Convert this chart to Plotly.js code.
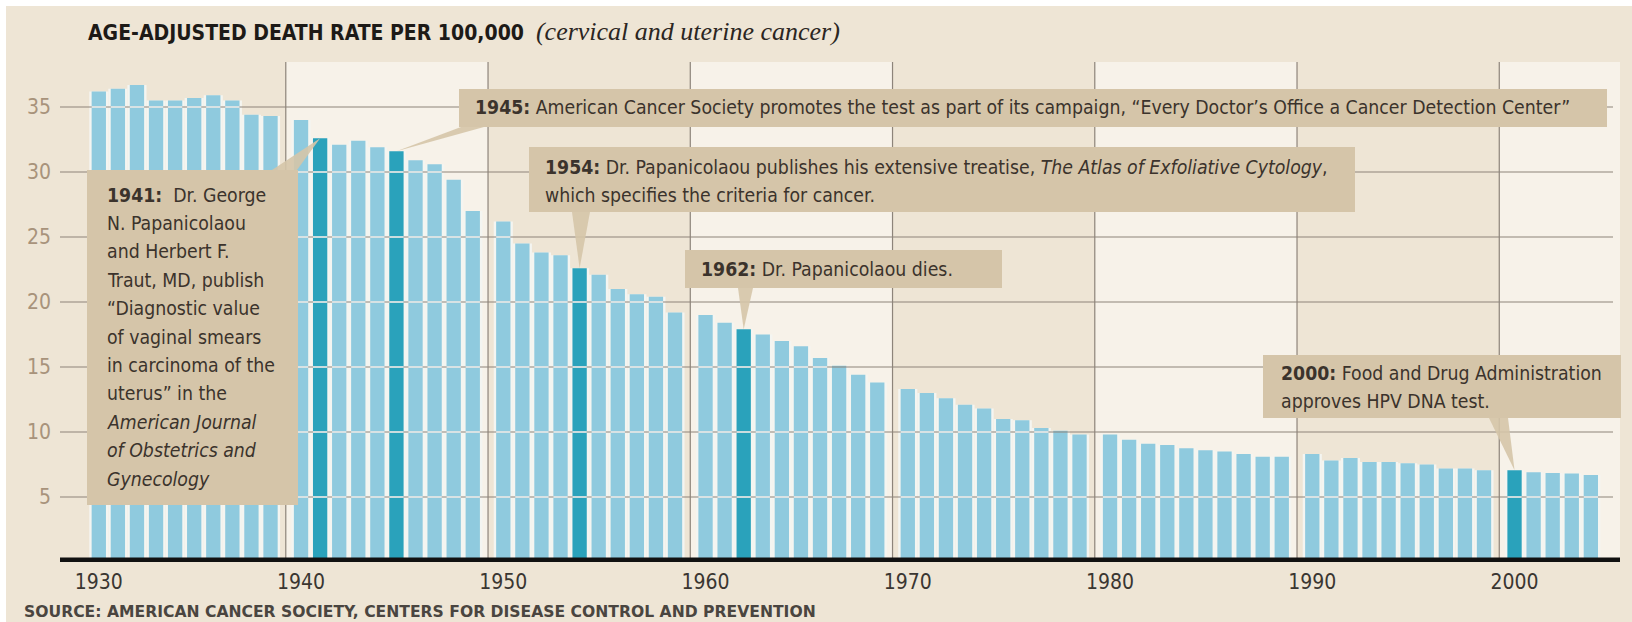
<!DOCTYPE html>
<html>
<head>
<meta charset="utf-8">
<script src="https://cdn.plot.ly/plotly-3.0.1.min.js"></script>
<style>html,body{margin:0;padding:0;background:#fff;}#chart{width:1632px;height:622px;}</style>
</head>
<body>
<div id="chart"></div>
<script>
// ---------------- data ----------------
const years = [
  1930,1931,1932,1933,1934,1935,1936,1937,1938,1939,
  1940,1941,1942,1943,1944,1945,1946,1947,1948,1949,
  1950,1951,1952,1953,1954,1955,1956,1957,1958,1959,
  1960,1961,1962,1963,1964,1965,1966,1967,1968,1969,
  1970,1971,1972,1973,1974,1975,1976,1977,1978,1979,
  1980,1981,1982,1983,1984,1985,1986,1987,1988,1989,
  1990,1991,1992,1993,1994,1995,1996,1997,1998,1999,
  2000,2001,2002,2003,2004
];
const rates = [
  36.2,36.4,36.7,35.5,35.5,35.7,35.9,35.5,34.4,34.3,
  34.0,32.6,32.1,32.4,31.9,31.6,30.9,30.6,29.4,27.0,
  26.2,24.5,23.8,23.6,22.6,22.1,21.0,20.6,20.4,19.2,
  19.0,18.4,17.9,17.5,17.0,16.6,15.7,15.1,14.4,13.8,
  13.3,13.0,12.6,12.1,11.8,11.0,10.9,10.3,10.1,9.8,
  9.8,9.4,9.1,9.0,8.75,8.6,8.5,8.3,8.1,8.1,
  8.3,7.8,8.0,7.7,7.7,7.6,7.5,7.2,7.2,7.05,
  7.05,6.9,6.85,6.8,6.7
];
const highlightYears = [1941, 1945, 1954, 1962, 2000];
const yTicks = [5, 10, 15, 20, 25, 30, 35];
const decadeLabels = ['1930','1940','1950','1960','1970','1980','1990','2000'];

const noteLines = {
  1941: ['<b>1941:</b>&nbsp; Dr. George', 'N. Papanicolaou', 'and Herbert F.', 'Traut, MD, publish',
         '\u201cDiagnostic value', 'of vaginal smears', 'in carcinoma of the', 'uterus\u201d in the',
         '<i>American Journal</i>', '<i>of Obstetrics and</i>', '<i>Gynecology</i>'],
  1945: ['<b>1945:</b> American Cancer Society promotes the test as part of its campaign, \u201cEvery Doctor\u2019s Office a Cancer Detection Center\u201d'],
  1954: ['<b>1954:</b> Dr. Papanicolaou publishes his extensive treatise, <i>The Atlas of Exfoliative Cytology</i>,',
         'which specifies the criteria for cancer.'],
  1962: ['<b>1962:</b> Dr. Papanicolaou dies.'],
  2000: ['<b>2000:</b> Food and Drug Administration', 'approves HPV DNA test.']
};
const titleMain = 'AGE-ADJUSTED DEATH RATE PER 100,000';
const titleSub = '(cervical and uterine cancer)';
const sourceText = 'SOURCE: AMERICAN CANCER SOCIETY, CENTERS FOR DISEASE CONTROL AND PREVENTION';

// ---------------- layout geometry (pixels) ----------------
const W = 1632, H = 622;
const L = 60, R = 1620, T = 62, B = 562;
const X0PX = 98.8, UNIT = 19.08, YPX = 13;
const GAP = 0.6;
const LINE_H = 28.4;
const xRange = [(L - X0PX) / UNIT, (R - X0PX) / UNIT];
const yMax = (B - T) / YPX;

function pos(y) { const i = y - 1930; return i + GAP * Math.floor(i / 10); }
function xp(px) { return (px - L) / (R - L); }
function yp(py) { return (B - py) / (B - T); }
function dx(px) { return xRange[0] + (px - L) / UNIT; }
function dy(py) { return (B - py) / YPX; }

const NARROW = '"Liberation Sans Narrow", "Arial Narrow", "DejaVu Sans Condensed", sans-serif';
const TAN = '#d5c5a9';
const LIGHT_BLUE = '#8fcade';
const TEAL = '#2aa2bb';

const xs = years.map(pos);
const colors = years.map(y => highlightYears.includes(y) ? TEAL : LIGHT_BLUE);

const decadeStarts = decadeLabels.map(d => pos(+d));
const gridX = decadeStarts.slice(1).map(p => p - GAP / 2 - 0.5);

// dark horizontal gridlines
const gx = [], gy = [];
yTicks.forEach(t => { gx.push(xRange[0], dx(1613), null); gy.push(t, t, null); });

// light breaks across bars at gridline levels
const wx = [], wy = [];
yTicks.forEach(t => {
  years.forEach((y, i) => {
    if (rates[i] > t + 0.15) { wx.push(xs[i] - 0.375, xs[i] + 0.375, null); wy.push(t, t, null); }
  });
});

const traces = [
  { type: 'bar', x: xs, y: rates, width: 1.0, marker: { color: '#f4f5f1', line: { width: 0 } }, hoverinfo: 'skip' },
  { type: 'bar', x: xs, y: rates, width: 0.75, marker: { color: colors, line: { width: 0 } }, hoverinfo: 'x+y' },
  { type: 'scatter', mode: 'lines', x: gx, y: gy, line: { color: '#8d847a', width: 1.2 }, hoverinfo: 'skip' },
  { type: 'scatter', mode: 'lines', x: wx, y: wy, line: { color: 'rgba(245,250,250,0.9)', width: 1.6 }, hoverinfo: 'skip' }
];

// ---------------- shapes ----------------
const shapes = [];
[1, 3, 5, 7].forEach(k => {
  const x0 = gridX[k - 1];
  const x1 = k < 7 ? gridX[k] : xRange[1];
  shapes.push({ type: 'rect', layer: 'below', xref: 'x', yref: 'paper', x0: x0, x1: x1, y0: 0, y1: 1,
    fillcolor: '#f7f2e9', line: { width: 0 } });
});
gridX.forEach(g => shapes.push({ type: 'line', layer: 'between', xref: 'x', yref: 'paper', x0: g, x1: g, y0: 0, y1: 1,
  line: { color: '#8d847a', width: 1.2 } }));
shapes.push({ type: 'line', layer: 'above', xref: 'paper', yref: 'y', x0: 0, x1: 1, y0: dy(560), y1: dy(560),
  line: { color: '#111', width: 5 } });

// note boxes [year, left, top, right, bottom, pointer base x1, x2, base y, text x, first line y]
const boxes = [
  [1941, 87, 170, 298, 505, 272, 297, 170, 105, 195],
  [1945, 459, 89, 1607, 127, 461, 484, 127, 473, 108],
  [1954, 529, 147, 1355, 212, 572, 590, 212, 543, 167],
  [1962, 685, 250, 1002, 288, 738, 753, 288, 699, 269],
  [2000, 1263, 355, 1621, 418, 1489, 1508, 418, 1279, 373]
];
const noteFont = { family: NARROW, size: 19.3, color: '#3b332c' };
const annotations = [];
boxes.forEach(b => {
  const i = years.indexOf(b[0]);
  shapes.push({ type: 'path', layer: 'above', xref: 'x', yref: 'y',
    path: `M ${dx(b[5])},${dy(b[7])} L ${dx(b[6])},${dy(b[7])} L ${xs[i]},${rates[i]} Z`,
    fillcolor: TAN, opacity: 0.9, line: { width: 0 } });
  shapes.push({ type: 'rect', layer: 'above', xref: 'paper', yref: 'paper',
    x0: xp(b[1]), x1: xp(b[3]), y0: yp(b[4]), y1: yp(b[2]), fillcolor: TAN, line: { width: 0 } });
  noteLines[b[0]].forEach((ln, k) => annotations.push({
    xref: 'paper', yref: 'paper', x: xp(b[8]), y: yp(b[9] + k * LINE_H),
    xanchor: 'left', yanchor: 'middle', align: 'left', showarrow: false, text: ln, font: noteFont
  }));
});
shapes.push({ type: 'rect', layer: 'above', xref: 'paper', yref: 'paper', x0: xp(0), x1: xp(W), y0: yp(0), y1: yp(6), fillcolor: '#ffffff', line: { width: 0 } });
shapes.push({ type: 'rect', layer: 'above', xref: 'paper', yref: 'paper', x0: xp(0), x1: xp(6), y0: yp(0), y1: yp(H), fillcolor: '#ffffff', line: { width: 0 } });

annotations.push({
  xref: 'paper', yref: 'paper', x: xp(22), y: yp(612), xanchor: 'left', yanchor: 'middle', showarrow: false,
  text: '<b>' + sourceText + '</b>', font: { family: '"DejaVu Sans", sans-serif', size: 15.6, color: '#4a4540' }
});

const layout = {
  width: W, height: H,
  margin: { l: L, r: W - R, t: T, b: H - B, pad: 0 },
  paper_bgcolor: '#eee5d5', plot_bgcolor: '#eee5d5',
  showlegend: false, barmode: 'overlay',
  title: {
    text: '<b>' + titleMain + '</b>&nbsp;&nbsp;<span style="font-family:Liberation Serif,serif;font-size:26px;color:#2b2622"><i>' + titleSub + '</i></span>',
    xref: 'container', yref: 'container', x: 88 / W, xanchor: 'left', y: 1 - 33 / H, yanchor: 'middle',
    font: { family: NARROW, size: 21, color: '#1d1a17' }
  },
  xaxis: {
    range: xRange, tickmode: 'array', tickvals: decadeStarts, ticktext: decadeLabels,
    showgrid: false, zeroline: false, showline: false, ticks: '', ticklabelstandoff: 5,
    tickfont: { family: NARROW, size: 21, color: '#3a3631' }, fixedrange: true
  },
  yaxis: {
    range: [0, yMax], tickmode: 'array', tickvals: yTicks,
    showgrid: false, zeroline: false, showline: false, ticks: '', ticklabelstandoff: 8,
    tickfont: { family: NARROW, size: 21, color: '#a8937b' }, fixedrange: true
  },
  shapes: shapes,
  annotations: annotations
};

Plotly.newPlot('chart', traces, layout, { displayModeBar: false, staticPlot: true });
</script>
</body>
</html>
